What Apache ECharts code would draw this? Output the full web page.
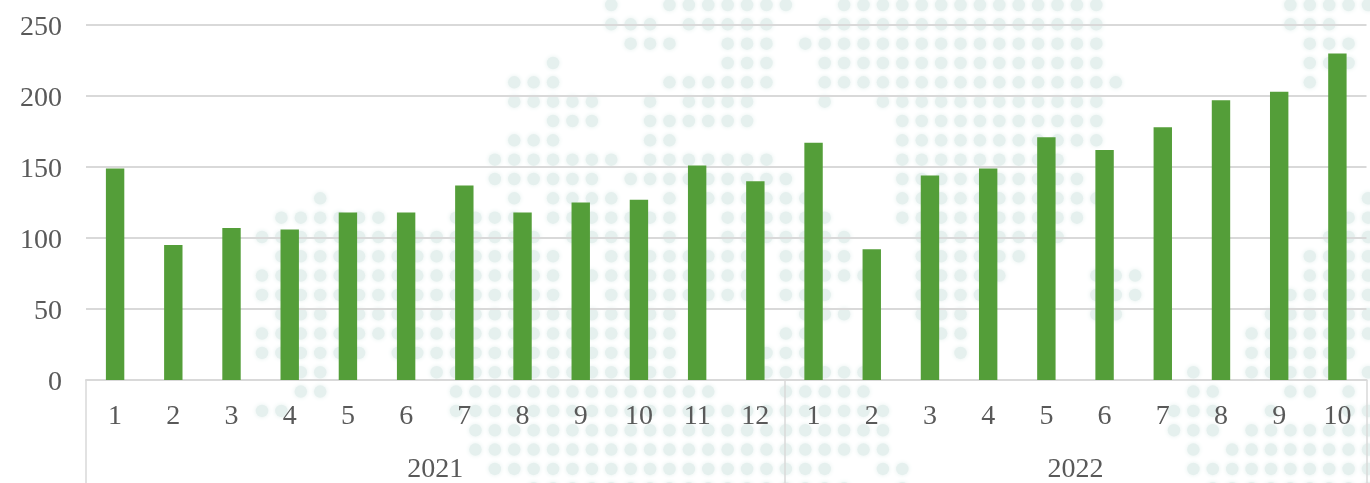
<!DOCTYPE html>
<html><head><meta charset="utf-8">
<style>html,body{margin:0;padding:0;background:#fff}#c{width:1370px;height:483px}</style>
<script src="https://cdn.jsdelivr.net/npm/echarts@6/dist/echarts.min.js"></script>
</head><body><div id="c"></div>
<script>
const months = ['1','2','3','4','5','6','7','8','9','10','11','12','1','2','3','4','5','6','7','8','9','10'];
const values = [149,95,107,106,118,118,137,118,125,127,151,140,167,92,144,149,171,162,178,197,203,230];
const years = ['2021','2022'];
const yearCentres = [6,17];
const yearBounds = [0,12,22];
const yTicks = [0,50,100,150,200,250];
// Decorative dotted world map: occupied columns per row
const mapRows = [
 '18,21-27,30-43,53-57',
 '18-20,22-26,29-43,53-55',
 '19-21,24-26,28-43,54-56',
 '15,24-26,29-43,54-56',
 '13-15,21-26,29-44,54',
 '13-17,20,22-25,29,32-43',
 '15-17,20-25,33-43',
 '13-15,20-21,33-43',
 '12-18,20-26,33-41',
 '12-17,19-27,33-42',
 '3,13,15-18,21,23-28,33-43,57',
 '1-6,10-13,15-21,24-29,33-42,56-57',
 '0-14,16-19,21,24-30,34-41,55-57',
 '1-15,18-25,27-30,34-39,54-57',
 '0-15,17-25,27-31,34-38,43-45,54-57',
 '0-15,18-25,27-29,34-37,43-45,53-57',
 '1-3,5-21,28-30,34-36,43-44,52-57',
 '0-21,27-28,35-36,51-57',
 '0-5,7-21,26-28,36,51-56',
 '2-3,9-21,26-31,48,51-55,57',
 '2-3,10-23,27-31,48-49,53-54,56',
 '0-1,10-32,47-49,52,56-57',
 '11-32,47-49,51-57',
 '11-32,48,50-57',
 '12-29,32-33,48-57',
 '14-30,33,49-57'
];
const dots = [];
mapRows.forEach((row, r) => row.split(',').forEach(part => {
  const [a, b] = part.split('-').map(Number);
  for (let c = a; c <= (b === undefined ? a : b); c++) dots.push([c, r]);
}));
const font = '"Liberation Serif","Times New Roman",serif';
const chart = echarts.init(document.getElementById('c'), null, {renderer:'canvas'});
chart.setOption({
  animation:false,
  backgroundColor:'#ffffff',
  grid:[
    {left:86,right:3.5,top:25,height:355,containLabel:false,outerBoundsMode:'none'},
    {left:262,top:5,width:1106,height:483.25,containLabel:false,outerBoundsMode:'none'}
  ],
  xAxis:[
    {type:'category',gridIndex:0,data:months,z:3,
     axisLine:{show:true,lineStyle:{color:'#d9d9d9',width:2}},axisTick:{show:false},
     axisLabel:{color:'#595959',fontFamily:font,fontSize:28,margin:23,interval:0}},
    {type:'value',gridIndex:0,min:0,max:22,position:'bottom',z:3,
     axisLine:{show:false},splitLine:{show:false},
     axisTick:{show:true,length:104,lineStyle:{color:'#d9d9d9',width:1.5},customValues:yearBounds},
     axisLabel:{show:true,color:'#595959',fontFamily:font,fontSize:28,margin:76,customValues:yearCentres,
       formatter:v=>years[yearCentres.indexOf(v)]}},
    {type:'value',gridIndex:1,min:0,max:57,show:false}
  ],
  yAxis:[
    {type:'value',gridIndex:0,min:0,max:250,interval:50,z:1,
     axisLine:{show:false},axisTick:{show:false},
     splitLine:{show:true,lineStyle:{color:'#d9d9d9',width:2}},
     axisLabel:{color:'#595959',fontFamily:font,fontSize:28,margin:24,verticalAlign:'top',lineHeight:6,customValues:yTicks}},
    {type:'value',gridIndex:1,min:0,max:25,inverse:true,show:false}
  ],
  series:[
    {type:'scatter',xAxisIndex:2,yAxisIndex:1,data:dots,clip:false,silent:true,z:0,
     symbol:'circle',symbolSize:12.5,
     itemStyle:{color:'#e5f0ee',opacity:1,shadowBlur:5,shadowColor:'#e5f0ee'}},
    {type:'bar',xAxisIndex:0,yAxisIndex:0,data:values,barWidth:18.4,z:5,
     itemStyle:{color:'#549e39'}}
  ]
});
</script></body></html>
